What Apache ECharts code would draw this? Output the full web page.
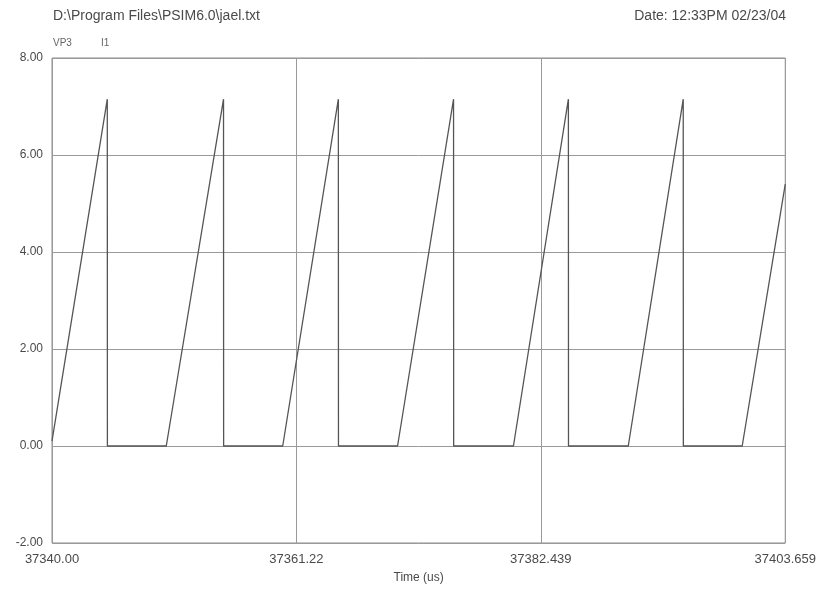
<!DOCTYPE html>
<html>
<head>
<meta charset="utf-8">
<title>PSIM I1</title>
<script src="https://cdn.jsdelivr.net/npm/echarts@6/dist/echarts.min.js"></script>
<style>
  html, body { margin: 0; padding: 0; background: #fff; }
  #chart { width: 819px; height: 589px; }
</style>
</head>
<body>
<div id="chart"></div>
<script>
// sampled waveform of I1 (time in us)
const times = [
  37340.00, 37344.80, 37344.81, 37349.92,
  37354.89, 37354.90, 37360.03,
  37364.86, 37364.87, 37370.00,
  37374.86, 37374.87, 37380.06,
  37384.83, 37384.84, 37390.03,
  37394.80, 37394.81, 37399.92,
  37403.659
]
const current = [
  0.10, 7.15, 0.00, 0.00,
  7.15, 0.00, 0.00,
  7.15, 0.00, 0.00,
  7.15, 0.00, 0.00,
  7.15, 0.00, 0.00,
  7.15, 0.00, 0.00,
  5.40
]
const xTicks = [37340.00, 37361.22, 37382.439, 37403.659]
const xTickLabels = ['37340.00', '37361.22', '37382.439', '37403.659']
const yTicks = [-2, 0, 2, 4, 6, 8]

const font = 'Liberation Sans, Arial, sans-serif'
const textColor = '#4a4a4a'

const chart = echarts.init(document.getElementById('chart'))

const option = {
  animation: false,
  backgroundColor: '#fff',
  title: [
    {
      text: 'D:\\Program Files\\PSIM6.0\\jael.txt',
      left: 53, top: 9, padding: 0,
      textStyle: { fontFamily: font, fontSize: 14, fontWeight: 'normal', color: textColor }
    },
    {
      text: 'Date: 12:33PM 02/23/04',
      right: 33, top: 9, padding: 0,
      textStyle: { fontFamily: font, fontSize: 14, fontWeight: 'normal', color: textColor }
    },
    {
      text: 'VP3',
      left: 53, top: 38, padding: 0,
      textStyle: { fontFamily: font, fontSize: 10, fontWeight: 'normal', color: '#666' }
    },
    {
      text: 'I1',
      left: 101, top: 38, padding: 0,
      textStyle: { fontFamily: font, fontSize: 10, fontWeight: 'normal', color: '#666' }
    }
  ],
  grid: {
    left: 52, right: 33, top: 58, bottom: 46,
    show: true, borderColor: '#8a8a8a', borderWidth: 1
  },
  xAxis: {
    type: 'value',
    min: xTicks[0],
    max: xTicks[xTicks.length - 1],
    name: 'Time (us)',
    nameLocation: 'middle',
    nameGap: 29,
    nameTextStyle: { fontFamily: font, fontSize: 12, color: textColor },
    axisLine: { show: false },
    axisTick: { show: false, customValues: xTicks },
    axisLabel: {
      customValues: xTicks,
      fontFamily: font, fontSize: 13, color: textColor, margin: 10,
      formatter: function (v) {
        let best = 0
        for (let i = 1; i < xTicks.length; i++) {
          if (Math.abs(xTicks[i] - v) < Math.abs(xTicks[best] - v)) best = i
        }
        return xTickLabels[best]
      }
    },
    splitLine: { show: true, lineStyle: { color: '#9a9a9a', width: 1 } }
  },
  yAxis: {
    type: 'value',
    min: yTicks[0],
    max: yTicks[yTicks.length - 1],
    interval: 2,
    axisLine: { show: false },
    axisTick: { show: false },
    axisLabel: {
      fontFamily: font, fontSize: 12, color: textColor, margin: 9,
      formatter: function (v) { return v.toFixed(2) }
    },
    splitLine: { show: true, lineStyle: { color: '#9a9a9a', width: 1 } }
  },
  series: [
    {
      name: 'I1',
      type: 'line',
      data: times.map((t, i) => [t, current[i]]),
      showSymbol: false,
      symbol: 'none',
      lineStyle: { color: '#555', width: 1.3 },
      clip: true
    }
  ]
}

chart.setOption(option)
</script>
</body>
</html>
